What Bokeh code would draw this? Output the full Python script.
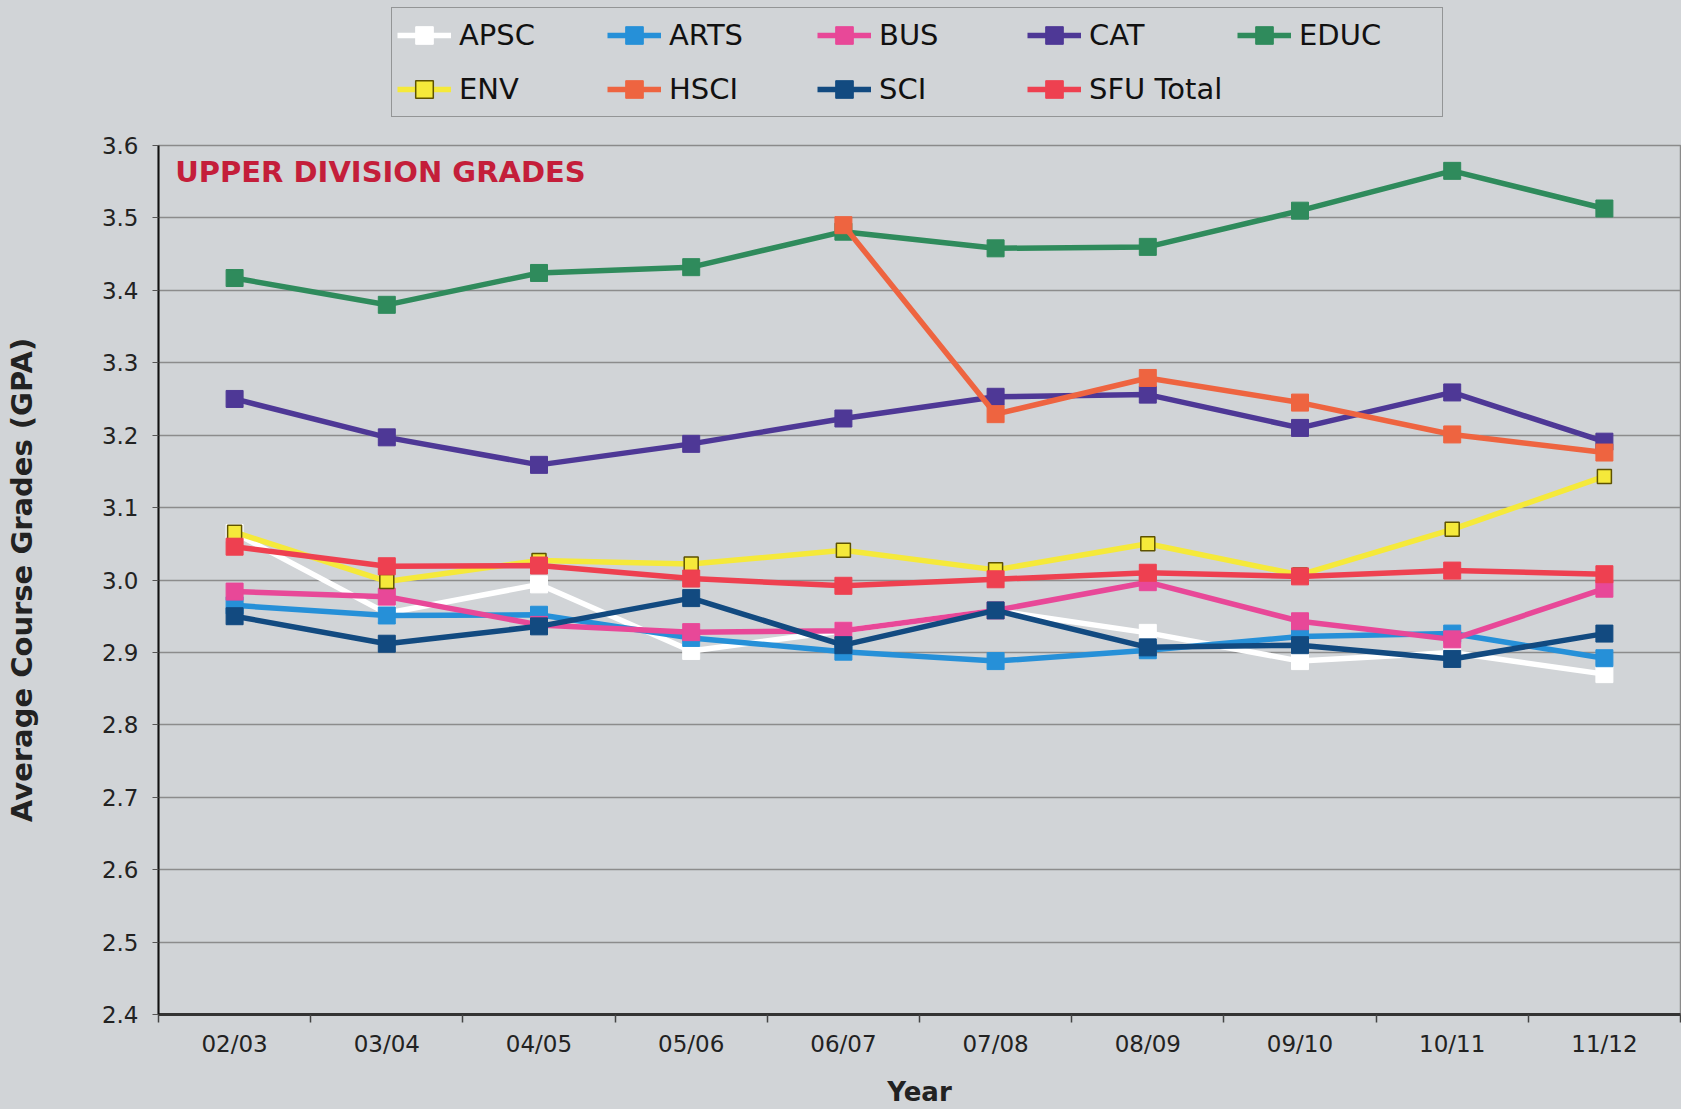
import math
from bokeh.plotting import figure
from bokeh.layouts import column
from bokeh.models import FixedTicker, Legend, LegendItem, Label, ColumnDataSource
from bokeh.embed import file_html
from bokeh.resources import INLINE

nan = float("nan")

years = ["02/03", "03/04", "04/05", "05/06", "06/07", "07/08", "08/09", "09/10", "10/11", "11/12"]
apsc = [3.065, 2.954, 2.994, 2.902, 2.930, 2.958, 2.927, 2.888, 2.900, 2.870]
arts = [2.965, 2.951, 2.952, 2.920, 2.901, 2.888, 2.903, 2.922, 2.926, 2.892]
bus = [2.984, 2.977, 2.938, 2.928, 2.930, 2.958, 2.997, 2.943, 2.918, 2.988]
cat = [3.250, 3.197, 3.159, 3.188, 3.223, 3.253, 3.256, 3.210, 3.259, 3.191]
educ = [3.417, 3.380, 3.424, 3.432, 3.481, 3.458, 3.460, 3.510, 3.565, 3.513]
env = [3.066, 2.998, 3.027, 3.022, 3.041, 3.014, 3.050, 3.007, 3.070, 3.143]
hsci = [nan, nan, nan, nan, 3.490, 3.229, 3.279, 3.245, 3.201, 3.176]
sci = [2.950, 2.912, 2.936, 2.975, 2.910, 2.958, 2.907, 2.910, 2.891, 2.926]
sfu = [3.046, 3.019, 3.020, 3.002, 2.992, 3.001, 3.010, 3.005, 3.013, 3.008]

series_names = ["APSC", "ARTS", "BUS", "CAT", "EDUC", "ENV", "HSCI", "SCI", "SFU Total"]
series_values = [apsc, arts, bus, cat, educ, env, hsci, sci, sfu]
y_ticks = [2.4, 2.5, 2.6, 2.7, 2.8, 2.9, 3.0, 3.1, 3.2, 3.3, 3.4, 3.5, 3.6]

colors = {
    "APSC": "#FFFFFF",
    "ARTS": "#2690D8",
    "BUS": "#E84898",
    "CAT": "#4E3896",
    "EDUC": "#2F8B5C",
    "ENV": "#F5E93A",
    "HSCI": "#EE6440",
    "SCI": "#124A80",
    "SFU Total": "#EE4050",
}

BG = "#D1D4D7"
FONT = "DejaVu Sans"
LEG_H = 120


def style_marks(fig, xs_, vals, name):
    src = ColumnDataSource(dict(x=xs_, y=vals))
    col = colors[name]
    r_line = fig.line("x", "y", source=src, line_color=col, line_width=5.5)
    if name == "ENV":
        r_mark = fig.scatter("x", "y", source=src, marker="square", size=14,
                             fill_color=col, line_color="#5E5200", line_width=1.5)
    else:
        r_mark = fig.scatter("x", "y", source=src, marker="square", size=17,
                             fill_color=col, line_color=col, line_width=1)
    return r_line, r_mark


# ---------------- main chart ----------------
p = figure(width=1681, height=1109 - LEG_H, x_range=(-0.5, 9.5), y_range=(2.4, 3.6),
           output_backend="svg", toolbar_location=None,
           min_border_left=158, min_border_top=25, min_border_bottom=92, min_border_right=1)
p.background_fill_color = BG
p.border_fill_color = BG
p.outline_line_color = "#8A8A8A"
p.outline_line_width = 1.5

xs = list(range(len(years)))
for name, vals in zip(series_names, series_values):
    style_marks(p, xs, vals, name)

p.xaxis.ticker = FixedTicker(ticks=xs, minor_ticks=[i - 0.5 for i in range(len(years) + 1)])
p.xaxis.major_label_overrides = {i: y for i, y in enumerate(years)}
p.xaxis.major_tick_out = 0
p.xaxis.major_tick_in = 0
p.xaxis.minor_tick_out = 8
p.xaxis.minor_tick_in = 0
p.xaxis.minor_tick_line_color = "#444444"
p.xaxis.minor_tick_line_width = 1.5
p.xaxis.axis_line_color = "#333333"
p.xaxis.axis_line_width = 3
p.xaxis.major_label_standoff = 8
p.xaxis.axis_label = "Year"
p.xaxis.axis_label_standoff = 17

p.yaxis.ticker = FixedTicker(ticks=y_ticks, minor_ticks=[])
p.yaxis.major_label_overrides = {t: f"{t:.1f}" for t in y_ticks}
p.yaxis.major_tick_out = 6
p.yaxis.major_tick_in = 0
p.yaxis.major_tick_line_color = "#555555"
p.yaxis.minor_tick_out = 0
p.yaxis.minor_tick_in = 0
p.yaxis.axis_line_color = "#111111"
p.yaxis.axis_line_width = 2
p.yaxis.major_label_standoff = 14
p.yaxis.axis_label = "Average Course Grades (GPA)"
p.yaxis.axis_label_standoff = 60

for ax in (p.xaxis, p.yaxis):
    ax.major_label_text_font = FONT
    ax.major_label_text_font_size = "23px"
    ax.major_label_text_color = "#222222"
    ax.axis_label_text_font = FONT
    ax.axis_label_text_font_style = "bold"
    ax.axis_label_text_color = "#222222"
p.xaxis.axis_label_text_font_size = "26px"
p.yaxis.axis_label_text_font_size = "29px"

p.xgrid.grid_line_color = None
p.ygrid.grid_line_color = "#8C8C8C"
p.ygrid.grid_line_width = 1.5

title = Label(x=-0.39, y=3.563, text="UPPER DIVISION GRADES", text_font=FONT,
              text_font_size="29px", text_font_style="bold", text_color="#C41E3A",
              text_baseline="middle", text_align="left")
p.add_layout(title)

# ---------------- legend strip ----------------
lg = figure(width=1681, height=LEG_H, x_range=(0, 1), y_range=(0, 1),
            output_backend="svg", toolbar_location=None,
            min_border_left=0, min_border_right=0, min_border_top=0, min_border_bottom=0)
lg.axis.visible = False
lg.grid.visible = False
lg.background_fill_color = BG
lg.border_fill_color = BG
lg.outline_line_color = None

items = []
for name in series_names:
    # one undrawable (NaN) point so the legend has a row to style its glyph from
    r_line, r_mark = style_marks(lg, [nan], [nan], name)
    items.append(LegendItem(label=name, renderers=[r_line, r_mark]))

legend = Legend(items=items, ncols=5, orientation="horizontal", location=(233, 3))
legend.glyph_width = 54
legend.glyph_height = 44
legend.label_standoff = 8
legend.label_width = 138
legend.label_height = 44
legend.spacing = 10
legend.padding = 5
legend.margin = 0
legend.label_text_font = FONT
legend.label_text_font_size = "29px"
legend.label_text_color = "#111111"
legend.background_fill_color = BG
legend.background_fill_alpha = 1.0
legend.border_line_color = "#555555"
legend.border_line_width = 1.5
lg.add_layout(legend)

layout = column(lg, p, spacing=0)

html = file_html(layout, INLINE)
html = html.replace(
    "<head>",
    "<head><style>html,body{margin:0;padding:0;overflow:hidden;background:%s;}</style>" % BG,
    1)
open("out.html", "w").write(html)
